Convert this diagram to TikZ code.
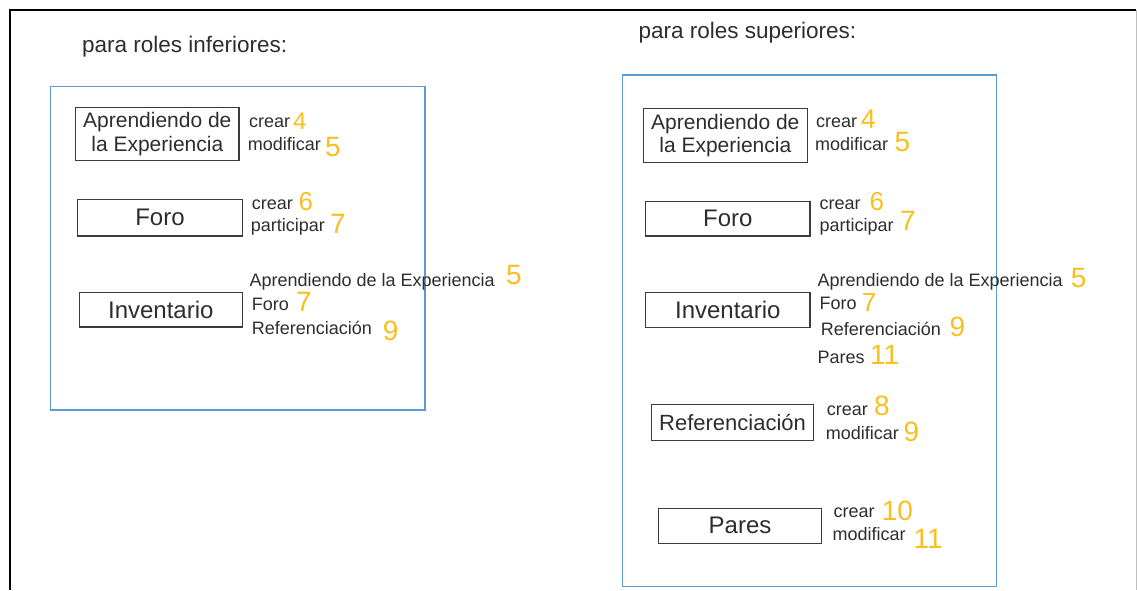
\documentclass[tikz,border=0pt]{standalone}
\usepackage{fontspec}
\setmainfont{Liberation Sans}
\definecolor{numc}{RGB}{250,190,30}
\definecolor{boxblue}{RGB}{91,155,213}
\definecolor{txt}{RGB}{45,45,45}
\definecolor{entc}{RGB}{60,60,60}
\begin{document}
\begin{tikzpicture}[x=1pt,y=-1pt,
  heading/.style={anchor=base west, inner sep=0pt, text=txt, font=\fontsize{22.5}{24}\selectfont},
  lbl/.style={anchor=base west, inner sep=0pt, text=txt, font=\fontsize{18}{20}\selectfont},
  num/.style={anchor=base west, inner sep=0pt, text=numc, font=\fontsize{28}{30}\selectfont},
  ent/.style={draw=entc, line width=1.2pt, inner sep=0pt, text=txt, align=center},
  group/.style={draw=boxblue, line width=1.5pt},
  frame/.style={draw=black, line width=2pt}]
\useasboundingbox (0,0) rectangle (1137,590);
% outer frame
\draw[frame] (9.5,590) -- (9.5,10.3) -- (1136,10.3);
\draw[draw=black!25, line width=1pt] (1136,10.3) -- (1136,590);

% ---------------- left: roles inferiores
\node[heading] (hL) at (82,52.5) {para roles inferiores:};
\draw[group] (50.7,86.7) rectangle (425,410);

\node[ent, minimum width=163.3pt, minimum height=53pt, font=\fontsize{21}{23.5}\selectfont] (lAdE) at (157.3,134.2) {Aprendiendo de\\la Experiencia};
\node[lbl] (lAdEc) at (249,127.3) {crear};
\node[num, font=\fontsize{24}{26}\selectfont] (lAdEc4) at (293,129.3) {4};
\node[lbl] (lAdEm) at (247.7,150.7) {modificar};
\node[num] (lAdEm5) at (325,156) {5};

\node[ent, minimum width=164.6pt, minimum height=36.7pt, font=\fontsize{24}{26}\selectfont] (lForo) at (160,217.7) {Foro};
\node[lbl] (lForoc) at (251.7,209.3) {crear};
\node[num, font=\fontsize{26}{28}\selectfont] (lForoc6) at (298.3,210.7) {6};
\node[lbl] (lForop) at (250.7,231.7) {participar};
\node[num] (lForop7) at (330,233.3) {7};

\node[ent, minimum width=163pt, minimum height=34.7pt, font=\fontsize{24}{26}\selectfont] (lInv) at (160.8,309.7) {Inventario};
\node[lbl] (lInva) at (249.3,286) {Aprendiendo de la Experiencia};
\node[num] (lInva5) at (506,284) {5};
\node[lbl] (lInvf) at (251.7,310) {Foro};
\node[num] (lInvf7) at (296,311.7) {7};
\node[lbl] (lInvr) at (251.7,334) {Referenciación};
\node[num] (lInvr9) at (382.7,340) {9};

% ---------------- right: roles superiores
\node[heading] (hR) at (638.3,38.3) {para roles superiores:};
\draw[group] (622.7,75) rectangle (996.7,586.7);

\node[ent, minimum width=164pt, minimum height=53.6pt, font=\fontsize{21}{23.5}\selectfont] (rAdE) at (725.3,135.5) {Aprendiendo de\\la Experiencia};
\node[lbl] (rAdEc) at (816,127.3) {crear};
\node[num, font=\fontsize{27}{29}\selectfont] (rAdEc4) at (860.7,128.3) {4};
\node[lbl] (rAdEm) at (815,150) {modificar};
\node[num] (rAdEm5) at (894.3,151.7) {5};

\node[ent, minimum width=164.3pt, minimum height=34.3pt, font=\fontsize{24}{26}\selectfont] (rForo) at (727.8,218.8) {Foro};
\node[lbl] (rForoc) at (819.3,209.3) {crear};
\node[num, font=\fontsize{26}{28}\selectfont] (rForoc6) at (869.3,210.7) {6};
\node[lbl] (rForop) at (819.3,231.7) {participar};
\node[num] (rForop7) at (900,230) {7};

\node[ent, minimum width=164.3pt, minimum height=35.4pt, font=\fontsize{24}{26}\selectfont] (rInv) at (727.8,310) {Inventario};
\node[lbl] (rInva) at (817.3,286) {Aprendiendo de la Experiencia};
\node[num] (rInva5) at (1070.7,287.3) {5};
\node[lbl] (rInvf) at (819.3,309.3) {Foro};
\node[num, font=\fontsize{26}{28}\selectfont] (rInvf7) at (861.7,311.7) {7};
\node[lbl] (rInvr) at (820.7,335) {Referenciación};
\node[num] (rInvr9) at (949.3,336) {9};
\node[lbl] (rInvp) at (817.3,363.3) {Pares};
\node[num] (rInvp11) at (870,364) {11};

\node[ent, minimum width=161.6pt, minimum height=36.4pt, font=\fontsize{22}{24}\selectfont] (rRef) at (732.5,422.5) {Referenciación};
\node[lbl] (rRefc) at (826.7,415) {crear};
\node[num] (rRefc8) at (874,415) {8};
\node[lbl] (rRefm) at (825.7,439.3) {modificar};
\node[num] (rRefm9) at (903.3,441.7) {9};

\node[ent, minimum width=163.4pt, minimum height=35pt, font=\fontsize{24}{26}\selectfont] (rPar) at (740,525.8) {Pares};
\node[lbl] (rParc) at (833.3,517.3) {crear};
\node[num] (rParc10) at (881.7,520) {10};
\node[lbl] (rParm) at (832.3,540) {modificar};
\node[num] (rParm11) at (913.3,548) {11};
\end{tikzpicture}
\end{document}
